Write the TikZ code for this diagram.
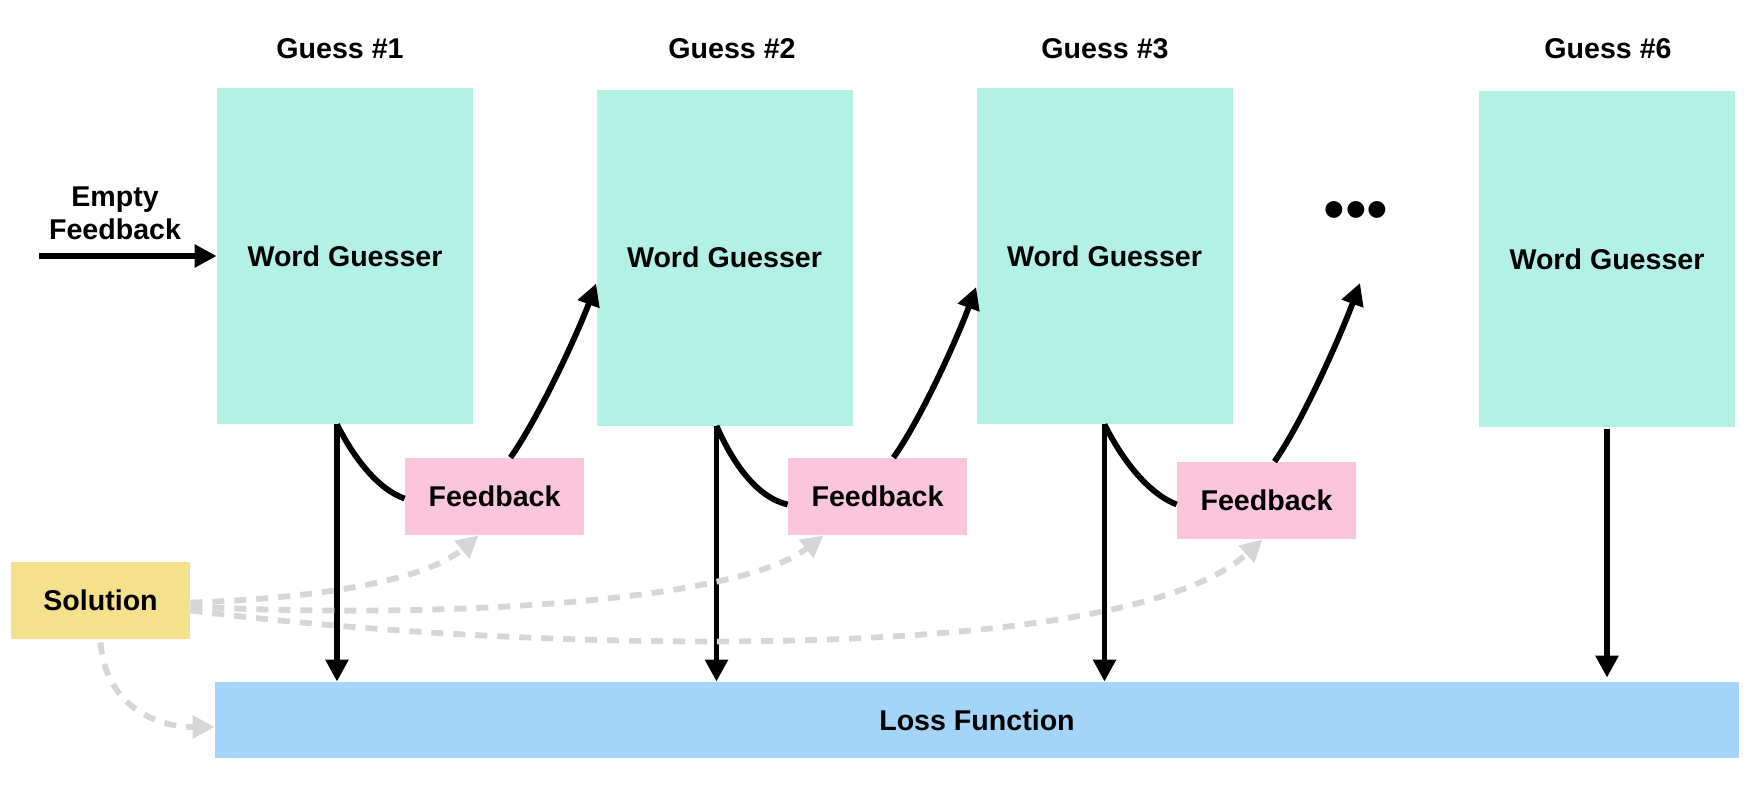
\documentclass[tikz,border=0pt]{standalone}
\usepackage{fontspec}
\setmainfont{Liberation Sans}
\usetikzlibrary{arrows.meta}

\definecolor{guessteal}{HTML}{B3F0E6}
\definecolor{fbpink}{HTML}{FBC6DC}
\definecolor{solyellow}{HTML}{F5E18C}
\definecolor{lossblue}{HTML}{A4D4F8}
\definecolor{hintgray}{HTML}{D6D6D6}

\begin{document}
\begin{tikzpicture}[x=0.5pt,y=-0.5pt,
        font=\fontsize{14.3}{16.5}\selectfont\bfseries,
        guesser/.style={fill=guessteal,minimum width=128pt,minimum height=168pt,inner sep=0pt},
        fbbox/.style={fill=fbpink,minimum width=89.5pt,minimum height=38.5pt,inner sep=0pt},
        flow/.style={line width=2.9pt,-{Triangle[length=11pt,width=11pt]}},
        link/.style={line width=2.9pt},
        hint/.style={draw=hintgray,line width=2.9pt,dash pattern=on 6pt off 5pt,-{Triangle[length=11pt,width=11pt]}}]

    \useasboundingbox (0,0) rectangle (1752,798);

    \node[guesser] (g1) at (345,256) {Word Guesser};
    \node[guesser] (g2) at (724.5,257.5) {Word Guesser};
    \node[guesser] (g3) at (1104.5,256) {Word Guesser};
    \node[guesser] (g6) at (1607,259) {Word Guesser};

    \node (t1) at (340,49) {Guess \#1};
    \node (t2) at (732,49) {Guess \#2};
    \node (t3) at (1105,49) {Guess \#3};
    \node (t6) at (1608,49) {Guess \#6};

    \node[align=center] (empty) at (115,213) {Empty\\Feedback};
    \node[font=\fontsize{31}{31}\selectfont] (dots) at (1356,216) {•••};

    \node[fbbox] (fb1) at (494.5,496.5) {Feedback};
    \node[fbbox] (fb2) at (877.5,496.5) {Feedback};
    \node[fbbox] (fb3) at (1266.5,500.5) {Feedback};

    \node[fill=solyellow,minimum width=89.5pt,minimum height=38.5pt,inner sep=0pt] (sol) at (100.5,600.5) {Solution};
    \node[fill=lossblue,minimum width=762pt,minimum height=38pt,inner sep=0pt] (loss) at (977,720) {Loss Function};

    \coordinate (start) at (39,256);
    \coordinate (fbend) at (1360,283);

    \draw[flow] (start) -- (g1.west);

    \draw[flow] ([xshift=-4pt]g1.south) -- ([xshift=-4pt]g1.south |- loss.north);
    \draw[flow] ([xshift=-4pt]g2.south) -- ([xshift=-4pt]g2.south |- loss.north);
    \draw[flow] (g3.south) -- (g3.south |- loss.north);
    \draw[flow,shorten <=1pt,shorten >=2pt] (g6.south) -- (g6.south |- loss.north);

    \draw[link] ([xshift=-4pt]g1.south) .. controls +(18,36) and +(-25,-8.5) .. ([yshift=-1pt]fb1.west);
    \draw[link] ([xshift=-4pt]g2.south) .. controls +(19,43) and +(-28,-6.5) .. ([yshift=-4pt]fb2.west);
    \draw[link] (g3.south) .. controls +(19,38) and +(-27,-10.5) .. ([yshift=-2pt]fb3.west);

    \draw[flow] ([xshift=8pt]fb1.north) .. controls +(30,-43) and +(-17,46.5) .. ([yshift=-13pt]g2.west);
    \draw[flow] ([xshift=8pt]fb2.north) .. controls +(30,-43) and +(-17,46.5) .. ([yshift=-15.5pt]g3.west);
    \draw[flow] ([xshift=4pt]fb3.north) .. controls +(30,-43) and +(-17,46.5) .. (fbend);

    \draw[hint] ([yshift=-1pt]sol.east) .. controls +(100,-3) and +(-58.5,50) .. ([xshift=-8pt]fb1.south);
    \draw[hint] ([yshift=-3pt]sol.east) .. controls +(260,13.5) and +(-83.5,65) .. ([xshift=-27pt]fb2.south);
    \draw[hint] ([yshift=-5pt]sol.east) .. controls +(310,39.5) and +(-142.5,131) .. ([xshift=-2pt]fb3.south);
    \draw[hint] ([yshift=-1.5pt]sol.south) .. controls +(4.5,58) and +(-65,0) .. ([yshift=-3.5pt]loss.west);
\end{tikzpicture}
\end{document}
